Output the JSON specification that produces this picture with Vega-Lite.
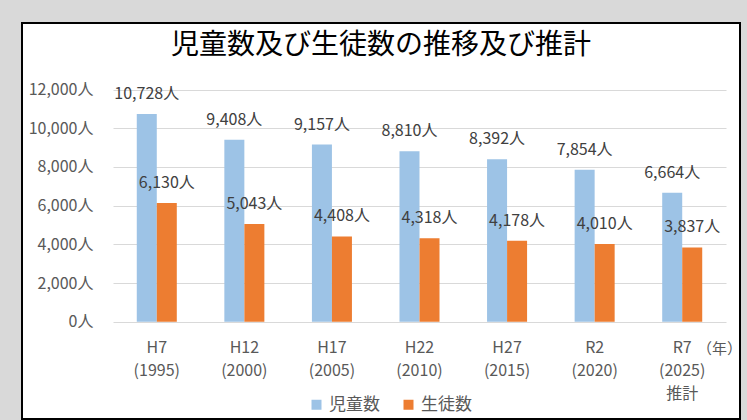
{
  "$schema": "https://vega.github.io/schema/vega-lite/v6.json",
  "autosize": {"type": "none"},
  "width": 718,
  "height": 396,
  "padding": {"left": 22, "top": 23, "right": 7, "bottom": 1},
  "background": "#d9d9d9",
  "config": {
    "view": {"fill": "white", "stroke": "black", "strokeWidth": 2},
    "font": "Noto Sans CJK JP"
  },
  "title": {
    "text": "児童数及び生徒数の推移及び推計",
    "fontSize": 28,
    "fontWeight": "normal",
    "color": "#000000",
    "anchor": "middle",
    "offset": -37,
    "font": "Noto Sans CJK JP"
  },
  "data": {
    "values": [
      {"period": "H7 (1995)", "type": "児童数", "value": 10728},
      {"period": "H7 (1995)", "type": "生徒数", "value": 6130},
      {"period": "H12 (2000)", "type": "児童数", "value": 9408},
      {"period": "H12 (2000)", "type": "生徒数", "value": 5043},
      {"period": "H17 (2005)", "type": "児童数", "value": 9157},
      {"period": "H17 (2005)", "type": "生徒数", "value": 4408},
      {"period": "H22 (2010)", "type": "児童数", "value": 8810},
      {"period": "H22 (2010)", "type": "生徒数", "value": 4318},
      {"period": "H27 (2015)", "type": "児童数", "value": 8392},
      {"period": "H27 (2015)", "type": "生徒数", "value": 4178},
      {"period": "R2 (2020)", "type": "児童数", "value": 7854},
      {"period": "R2 (2020)", "type": "生徒数", "value": 4010},
      {"period": "R7 (2025) 推計", "type": "児童数", "value": 6664},
      {"period": "R7 (2025) 推計", "type": "生徒数", "value": 3837}
    ]
  },
  "transform": [
    {"calculate": "format(datum.value, ',') + '人'", "as": "label"}
  ],
  "encoding": {
    "x": {
      "field": "period",
      "type": "nominal",
      "sort": null,
      "scale": {"type": "band", "range": [91, 704], "paddingInner": 0.543, "paddingOuter": 0.2715},
      "axis": {
        "orient": "bottom",
        "offset": -97,
        "labelAngle": 0,
        "labelExpr": "split(datum.label, ' ')",
        "labelFontSize": 16,
        "labelColor": "#595959",
        "labelPadding": 17,
        "labelLineHeight": 23,
        "labelBaseline": "top",
        "domain": false,
        "ticks": false,
        "tickSize": 0,
        "grid": false,
        "title": "（年）",
        "titleFontSize": 15,
        "titleFontWeight": "normal",
        "titleColor": "#595959",
        "titleX": 697,
        "titleY": 26,
        "titleAlign": "center",
        "titleBaseline": "middle"
      }
    },
    "xOffset": {
      "field": "type",
      "type": "nominal",
      "sort": ["児童数", "生徒数"],
      "scale": {"paddingInner": 0, "paddingOuter": 0}
    },
    "y": {
      "field": "value",
      "type": "quantitative",
      "scale": {"domain": [0, 12000], "range": [298.7, 66.5], "nice": false, "zero": true},
      "axis": {
        "orient": "left",
        "offset": -73,
        "values": [0, 2000, 4000, 6000, 8000, 10000, 12000],
        "labelExpr": "format(datum.value, ',') + '人'",
        "labelFontSize": 16,
        "labelColor": "#595959",
        "labelPadding": 2,
        "domain": false,
        "ticks": false,
        "tickSize": 0,
        "grid": true,
        "gridColor": "#d9d9d9",
        "gridWidth": 1,
        "title": null
      }
    }
  },
  "layer": [
    {
      "mark": {"type": "bar"},
      "encoding": {
        "color": {
          "field": "type",
          "type": "nominal",
          "sort": ["児童数", "生徒数"],
          "scale": {"domain": ["児童数", "生徒数"], "range": ["#9dc3e6", "#ed7d31"]},
          "legend": {
            "title": null,
            "orient": "none",
            "direction": "horizontal",
            "legendX": 286,
            "legendY": 373,
            "padding": 0,
            "symbolType": "square",
            "symbolSize": 100,
            "symbolStrokeWidth": 0,
            "labelFontSize": 17,
            "labelColor": "#595959",
            "labelOffset": 4,
            "columnPadding": 20
          }
        }
      }
    },
    {
      "mark": {"type": "text", "fontSize": 16, "color": "#404040", "baseline": "middle", "align": "center", "dy": -20},
      "encoding": {
        "text": {"field": "label", "type": "nominal"}
      }
    }
  ]
}
